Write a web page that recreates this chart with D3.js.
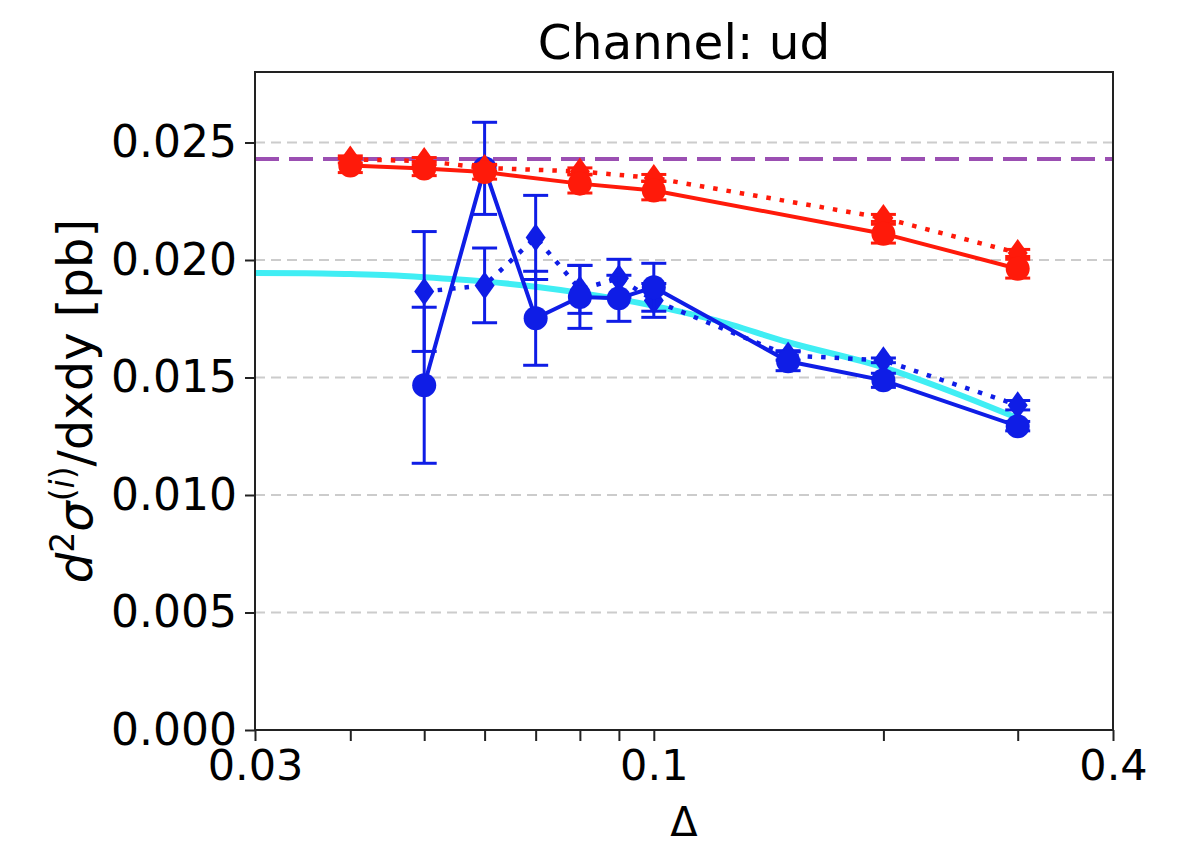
<!DOCTYPE html>
<html>
<head>
<meta charset="utf-8">
<script src="https://cdn.jsdelivr.net/npm/d3@7/dist/d3.min.js"></script>
<style>
  html, body { margin: 0; padding: 0; background: #fff; }
  svg { display: block; }
  text { font-family: "DejaVu Sans", sans-serif; fill: #000; }
</style>
</head>
<body>
<svg id="chart" width="1200" height="848"></svg>
<script>
// Channel ud: d2sigma/dxdy versus Delta
const deltaRed = [0.04, 0.05, 0.06, 0.08, 0.1, 0.2, 0.3];
const redSolid = [0.02402, 0.02389, 0.02374, 0.02325, 0.02296, 0.02112, 0.01963];
const redSolidErr = [0.0003, 0.0003, 0.0003, 0.0004, 0.0004, 0.0004, 0.0004];
const redDotted = [0.02428, 0.02421, 0.02392, 0.02377, 0.02349, 0.02179, 0.0203];
const redDottedErr = [0.00015, 0.00015, 0.00015, 0.00015, 0.00015, 0.00015, 0.00015];

const deltaBlue = [0.05, 0.06, 0.07, 0.08, 0.09, 0.1, 0.15, 0.2, 0.3];
const blueSolid = [0.01467, 0.0239, 0.01752, 0.01843, 0.01837, 0.01884, 0.01569, 0.01488, 0.01293];
const blueSolidErr = [0.00332, 0.00196, 0.0020, 0.00134, 0.00098, 0.00102, 0.0004, 0.0003, 0.0002];
const blueDotted = [0.01866, 0.01892, 0.02096, 0.01875, 0.01922, 0.01828, 0.01594, 0.01573, 0.01382];
const blueDottedErr = [0.00255, 0.00159, 0.00179, 0.00102, 0.00081, 0.00072, 0.0002, 0.0001, 0.0002];

const cyanDelta = [0.03, 0.035, 0.04, 0.045, 0.05, 0.06, 0.07, 0.08, 0.1, 0.12, 0.15, 0.2, 0.25, 0.3];
const cyanValues = [0.01945, 0.01944, 0.0194, 0.01935, 0.01927, 0.01909, 0.01886, 0.0186, 0.01805, 0.01745, 0.0165, 0.01543, 0.0143, 0.01327];

const purpleLevel = 0.0243;

const yTicks = [0, 0.005, 0.010, 0.015, 0.020, 0.025];
const xTicks = [0.03, 0.04, 0.05, 0.06, 0.07, 0.08, 0.09, 0.1, 0.2, 0.3, 0.4];
const xTickLabels = { 0.03: "0.03", 0.1: "0.1", 0.4: "0.4" };

const svg = d3.select("#chart");
const plotLeft = 255, plotRight = 1113, plotTop = 72, plotBottom = 730;

const x = d3.scaleLog().domain([0.03, 0.4]).range([plotLeft, plotRight]);
const y = d3.scaleLinear().domain([0, 0.028]).range([plotBottom, plotTop]);

// horizontal dashed grid
svg.append("g").selectAll("line")
  .data(yTicks.filter(d => d > 0))
  .join("line")
  .attr("x1", plotLeft).attr("x2", plotRight)
  .attr("y1", d => y(d)).attr("y2", d => y(d))
  .attr("stroke", "#cccccc").attr("stroke-width", 2)
  .attr("stroke-dasharray", "10,6");

const plot = svg.append("g");

const line = d3.line().x(d => x(d[0])).y(d => y(d[1]));

// smooth cyan curve
plot.append("path")
  .datum(cyanDelta.map((d, i) => [d, cyanValues[i]]))
  .attr("d", d3.line().x(d => x(d[0])).y(d => y(d[1])).curve(d3.curveMonotoneX))
  .attr("fill", "none").attr("stroke", "#40eef4").attr("stroke-width", 6);

// purple horizontal reference
plot.append("line")
  .attr("x1", x(0.03)).attr("x2", x(0.4))
  .attr("y1", y(purpleLevel)).attr("y2", y(purpleLevel))
  .attr("stroke", "#9b4fb2").attr("stroke-width", 4)
  .attr("stroke-dasharray", "24,10");

function drawSeries(xs, vals, errs, color, dashed, marker) {
  const g = plot.append("g");
  const pts = xs.map((d, i) => [d, vals[i], errs[i]]);
  g.append("path").datum(pts)
    .attr("d", line)
    .attr("fill", "none").attr("stroke", color)
    .attr("stroke-width", dashed ? 4.5 : 4)
    .attr("stroke-dasharray", dashed ? "4.5,9" : null);
  // error bars
  const eb = g.append("g").attr("stroke", color).attr("stroke-width", 3);
  pts.forEach(p => {
    const cx = x(p[0]), y0 = y(p[1] - p[2]), y1 = y(p[1] + p[2]);
    eb.append("line").attr("x1", cx).attr("x2", cx).attr("y1", y0).attr("y2", y1);
    eb.append("line").attr("x1", cx - 12.5).attr("x2", cx + 12.5).attr("y1", y0).attr("y2", y0);
    eb.append("line").attr("x1", cx - 12.5).attr("x2", cx + 12.5).attr("y1", y1).attr("y2", y1);
  });
  if (marker === "circle") {
    g.selectAll("circle").data(pts).join("circle")
      .attr("cx", d => x(d[0])).attr("cy", d => y(d[1])).attr("r", 12)
      .attr("fill", color);
  } else {
    g.selectAll("path.m").data(pts).join("path").attr("class", "m")
      .attr("d", d => {
        const cx = x(d[0]), cy = y(d[1]);
        return `M${cx},${cy - 14}L${cx + 10},${cy}L${cx},${cy + 14}L${cx - 10},${cy}Z`;
      })
      .attr("fill", color);
  }
}

drawSeries(deltaBlue, blueDotted, blueDottedErr, "#0f1de6", true, "diamond");
drawSeries(deltaBlue, blueSolid, blueSolidErr, "#0f1de6", false, "circle");
drawSeries(deltaRed, redDotted, redDottedErr, "#ff1a0a", true, "diamond");
drawSeries(deltaRed, redSolid, redSolidErr, "#ff1a0a", false, "circle");

// frame
svg.append("rect")
  .attr("x", plotLeft).attr("y", plotTop).attr("width", plotRight - plotLeft).attr("height", plotBottom - plotTop)
  .attr("fill", "none").attr("stroke", "#222").attr("stroke-width", 2);

// y axis
const yAxis = d3.axisLeft(y).tickValues(yTicks).tickFormat(d3.format(".3f")).tickSize(10).tickPadding(8);
const gy = svg.append("g").attr("transform", `translate(${plotLeft},0)`).call(yAxis);
gy.select(".domain").remove();
gy.selectAll(".tick line").attr("stroke", "#222").attr("stroke-width", 2);
gy.selectAll(".tick text").attr("font-size", 44).attr("font-family", "DejaVu Sans").attr("fill", "#000");

// x axis (log)
const xAxis = d3.axisBottom(x).tickValues(xTicks).tickFormat(d => xTickLabels[d] || "").tickSize(11).tickPadding(8);
const gx = svg.append("g").attr("transform", `translate(0,${plotBottom})`).call(xAxis);
gx.select(".domain").remove();
gx.selectAll(".tick line").attr("stroke", "#222").attr("stroke-width", 2);
gx.selectAll(".tick text").attr("font-size", 43).attr("font-family", "DejaVu Sans").attr("fill", "#000");

// title
svg.append("text").attr("x", (plotLeft + plotRight) / 2).attr("y", 59)
  .attr("text-anchor", "middle").attr("font-size", 48.5).text("Channel: ud");

// x label
svg.append("text").attr("x", (plotLeft + plotRight) / 2).attr("y", 836)
  .attr("text-anchor", "middle").attr("font-size", 40).text("Δ");

// y label with math super/subscripts
const yl = svg.append("text")
  .attr("transform", `translate(92,${(plotTop + plotBottom) / 2}) rotate(-90)`)
  .attr("text-anchor", "middle").attr("font-size", 48);
yl.append("tspan").attr("font-style", "italic").text("d");
yl.append("tspan").attr("font-size", 33).attr("dy", -18).text("2");
yl.append("tspan").attr("font-style", "italic").attr("dy", 18).text("σ");
yl.append("tspan").attr("font-size", 33).attr("dy", -18).text("(");
yl.append("tspan").attr("font-size", 33).attr("font-style", "italic").text("i");
yl.append("tspan").attr("font-size", 33).text(")");
yl.append("tspan").attr("dy", 18).text("/dxdy [pb]");
</script>
</body>
</html>
